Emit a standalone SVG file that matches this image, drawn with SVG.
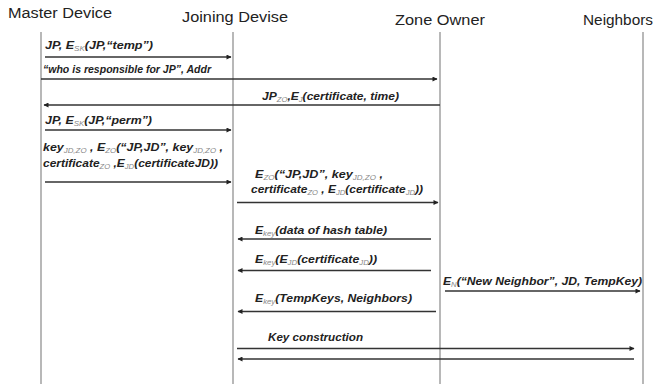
<svg xmlns="http://www.w3.org/2000/svg" width="657" height="384" viewBox="0 0 657 384">
<style>
.hdr{font-family:"Liberation Sans",Arial,sans-serif;font-size:14px;fill:#222}
.lbl{font-family:"Liberation Sans",Arial,sans-serif;font-size:11px;font-weight:bold;font-style:italic;fill:#222}
.sub{font-size:7px;font-weight:normal;fill:#888}
.life{stroke:#9a9a9a;stroke-width:1.4;fill:none}
.msg{stroke:#333;stroke-width:1.4;fill:none}
</style>
<defs>
<marker id="ah" viewBox="0 0 10 10" refX="9" refY="5" markerWidth="7" markerHeight="5" markerUnits="userSpaceOnUse" orient="auto">
<path d="M0,0 L10,5 L0,10 z" fill="#222"/>
</marker>
</defs>
<rect width="657" height="384" fill="#fff"/>
<g id="master"><text class="hdr" x="8" y="18" textLength="104" lengthAdjust="spacingAndGlyphs">Master Device</text><line class="life" x1="41" y1="32" x2="41" y2="384"/></g>
<g id="joining"><text class="hdr" x="182" y="21.5" textLength="106" lengthAdjust="spacingAndGlyphs">Joining Devise</text><line class="life" x1="233" y1="32" x2="233" y2="384"/></g>
<g id="zone"><text class="hdr" x="395" y="25" textLength="90" lengthAdjust="spacingAndGlyphs">Zone Owner</text><line class="life" x1="440" y1="32" x2="440" y2="384"/></g>
<g id="neighbors"><text class="hdr" x="583" y="25" textLength="70" lengthAdjust="spacingAndGlyphs">Neighbors</text><line class="life" x1="643" y1="32" x2="643" y2="384"/></g>
<g id="connectors">
<line class="msg" x1="45" y1="57" x2="231" y2="57" marker-end="url(#ah)"/>
<line class="msg" x1="41" y1="79" x2="437" y2="79" marker-end="url(#ah)"/>
<line class="msg" x1="440" y1="105" x2="44" y2="105" marker-end="url(#ah)"/>
<line class="msg" x1="45" y1="130" x2="231" y2="130" marker-end="url(#ah)"/>
<line class="msg" x1="45" y1="182" x2="231" y2="182" marker-end="url(#ah)"/>
<line class="msg" x1="237" y1="202.5" x2="438" y2="202.5" marker-end="url(#ah)"/>
<line class="msg" x1="431" y1="239" x2="238" y2="239" marker-end="url(#ah)"/>
<line class="msg" x1="431" y1="270.5" x2="238" y2="270.5" marker-end="url(#ah)"/>
<line class="msg" x1="445" y1="291" x2="640" y2="291" marker-end="url(#ah)"/>
<line class="msg" x1="436" y1="311.5" x2="238" y2="311.5" marker-end="url(#ah)"/>
<line class="msg" x1="237" y1="348.5" x2="634" y2="348.5" marker-end="url(#ah)"/>
<line class="msg" x1="634" y1="359" x2="238" y2="359" marker-end="url(#ah)"/>
</g>
<g id="labels">
<text class="lbl" x="45" y="49" textLength="108" lengthAdjust="spacingAndGlyphs">JP, E<tspan class="sub" dy="2">SK</tspan><tspan dy="-2">(JP,“temp”)</tspan></text>
<text class="lbl" x="43" y="73" textLength="168" lengthAdjust="spacingAndGlyphs">“who is responsible for JP”, Addr</text>
<text class="lbl" x="262" y="100" textLength="137" lengthAdjust="spacingAndGlyphs">JP<tspan class="sub" dy="2">ZO</tspan><tspan dy="-2">,E</tspan><tspan class="sub" dy="2">J</tspan><tspan dy="-2">(certificate, time)</tspan></text>
<text class="lbl" x="45" y="124" textLength="107" lengthAdjust="spacingAndGlyphs">JP, E<tspan class="sub" dy="2">SK</tspan><tspan dy="-2">(JP,“perm”)</tspan></text>
<text class="lbl" x="43" y="151" textLength="180" lengthAdjust="spacingAndGlyphs">key<tspan class="sub" dy="2">JD,ZO</tspan><tspan dy="-2"> , E</tspan><tspan class="sub" dy="2">ZO</tspan><tspan dy="-2">(“JP,JD”, key</tspan><tspan class="sub" dy="2">JD,ZO</tspan><tspan dy="-2"> ,</tspan></text>
<text class="lbl" x="43" y="167" textLength="175" lengthAdjust="spacingAndGlyphs">certificate<tspan class="sub" dy="2">ZO</tspan><tspan dy="-2"> ,E</tspan><tspan class="sub" dy="2">JD</tspan><tspan dy="-2">(certificateJD))</tspan></text>
<text class="lbl" x="255" y="178" textLength="128" lengthAdjust="spacingAndGlyphs">E<tspan class="sub" dy="2">ZO</tspan><tspan dy="-2">(“JP,JD”, key</tspan><tspan class="sub" dy="2">JD,ZO</tspan><tspan dy="-2"> ,</tspan></text>
<text class="lbl" x="251" y="193" textLength="172" lengthAdjust="spacingAndGlyphs">certificate<tspan class="sub" dy="2">ZO</tspan><tspan dy="-2"> , E</tspan><tspan class="sub" dy="2">JD</tspan><tspan dy="-2">(certificate</tspan><tspan class="sub" dy="2">JD</tspan><tspan dy="-2">))</tspan></text>
<text class="lbl" x="255" y="233.5" textLength="132" lengthAdjust="spacingAndGlyphs">E<tspan class="sub" dy="2">key</tspan><tspan dy="-2">(data of hash table)</tspan></text>
<text class="lbl" x="255" y="263" textLength="122" lengthAdjust="spacingAndGlyphs">E<tspan class="sub" dy="2">key</tspan><tspan dy="-2">(E</tspan><tspan class="sub" dy="2">JD</tspan><tspan dy="-2">(certificate</tspan><tspan class="sub" dy="2">JD</tspan><tspan dy="-2">))</tspan></text>
<text class="lbl" x="443" y="284.5" textLength="199" lengthAdjust="spacingAndGlyphs">E<tspan class="sub" dy="2">N</tspan><tspan dy="-2">(“New Neighbor”, JD, TempKey)</tspan></text>
<text class="lbl" x="255" y="302" textLength="157" lengthAdjust="spacingAndGlyphs">E<tspan class="sub" dy="2">key</tspan><tspan dy="-2">(TempKeys, Neighbors)</tspan></text>
<text class="lbl" x="268" y="340.5" textLength="95" lengthAdjust="spacingAndGlyphs">Key construction</text>
</g>
</svg>
